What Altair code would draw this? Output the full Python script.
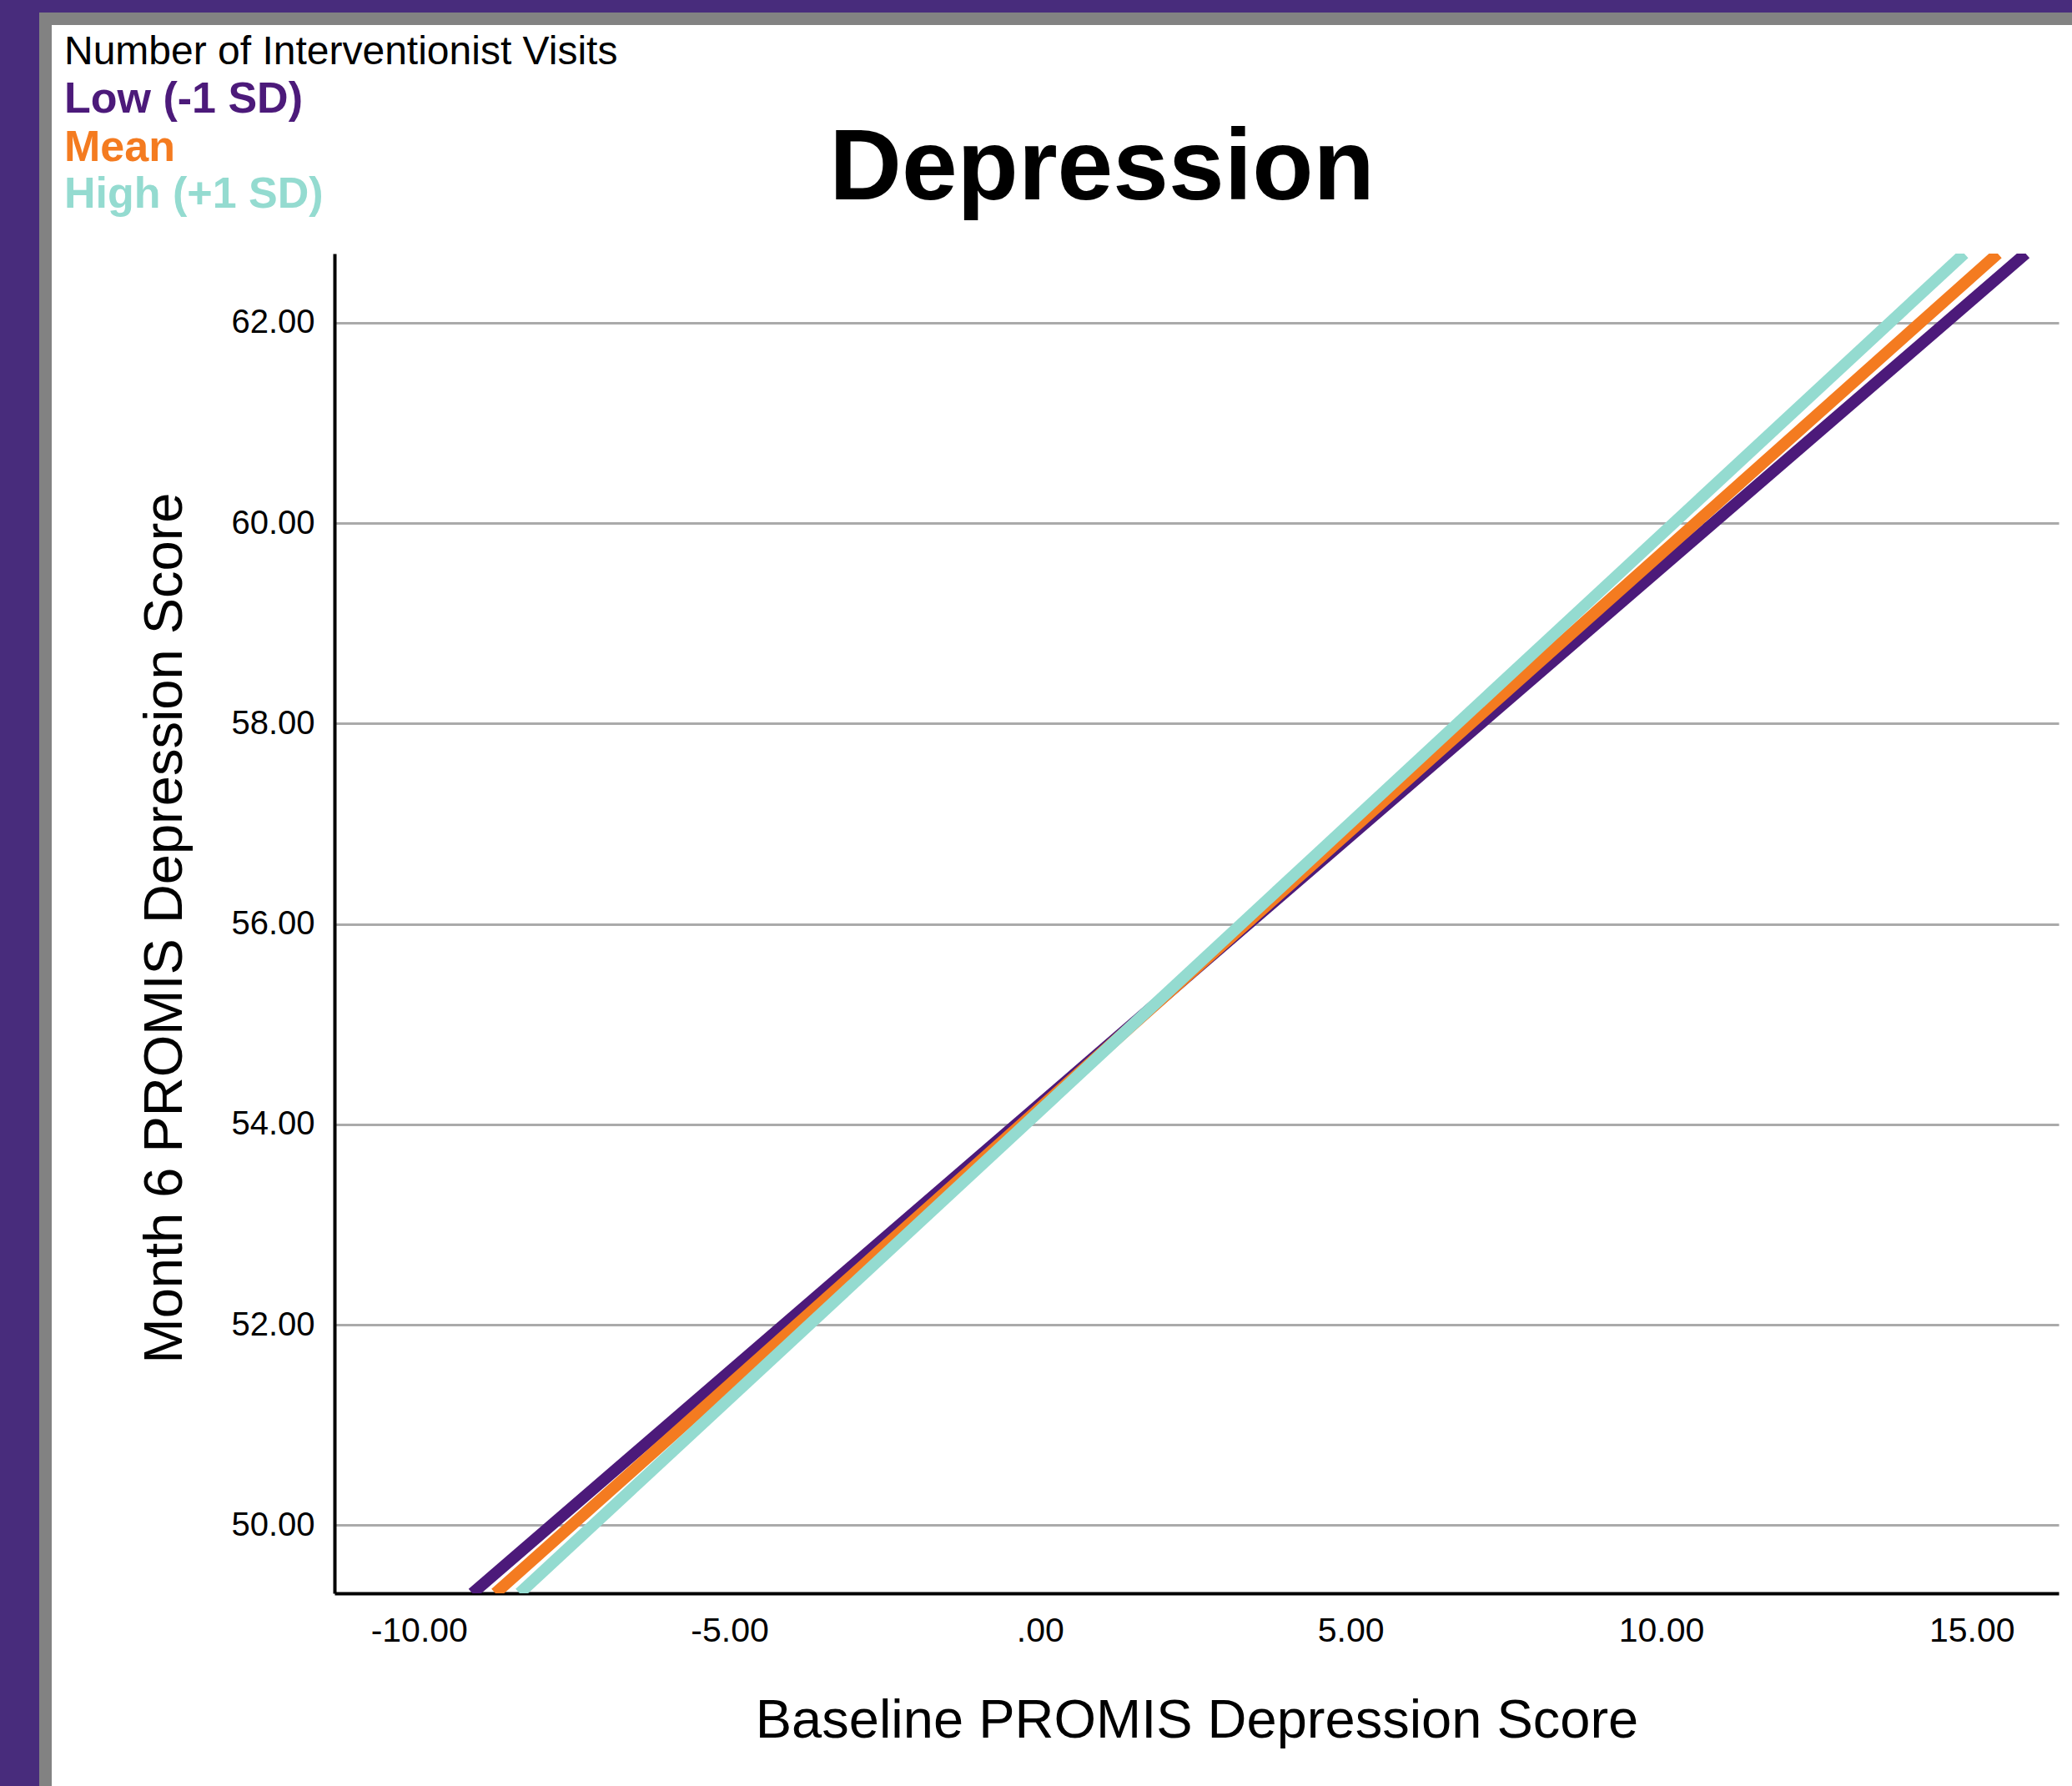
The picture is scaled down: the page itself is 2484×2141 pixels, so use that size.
import altair as alt
import pandas as pd

# ---- data ----
series = ["Low (-1 SD)", "Mean", "High (+1 SD)"]
colors = ["#4c1a7a", "#f47b20", "#94dbd0"]
x_start = [-9.14, -8.77, -8.38]
x_end = [15.87, 15.42, 14.88]
y_start = [49.32, 49.32, 49.32]
y_end = [62.69, 62.69, 62.69]

x_ticks = [-10, -5, 0, 5, 10, 15]
y_ticks = [50, 52, 54, 56, 58, 60, 62]
x_domain = [-11.36, 16.40]
y_domain = [49.32, 62.69]

legend_title = "Number of Interventionist Visits"
chart_title = "Depression"
x_title = "Baseline PROMIS Depression Score"
y_title = "Month 6 PROMIS Depression Score"

# ---- tables ----
rows = []
for s, xs, xe, ys, ye in zip(series, x_start, x_end, y_start, y_end):
    rows.append({"series": s, "x": xs, "y": ys})
    rows.append({"series": s, "x": xe, "y": ye})
lines_df = pd.DataFrame(rows)
labels_df = pd.DataFrame({"series": series})
one = pd.DataFrame({"k": [0]})

W, H = 2067, 1606
PAD_L, PAD_T = 401, 304
TOTAL_W, TOTAL_H = 2484, 2141

color_scale = alt.Scale(domain=series, range=colors)
label_expr = ("(datum.value < 0 ? '-' : '') + "
              "(datum.value == 0 ? '.00' : format(abs(datum.value), '.2f'))")
FONT = "Liberation Sans"

x_enc = alt.X(
    "x:Q",
    scale=alt.Scale(domain=x_domain, nice=False, zero=False),
    axis=alt.Axis(
        values=x_ticks, labelExpr=label_expr, title=x_title, grid=False,
        ticks=False, tickSize=0, domainColor="black", domainWidth=4,
        labelFont=FONT, labelFontSize=41, labelColor="black", labelPadding=25,
        labelFlush=False, labelOverlap=False,
        titleFont=FONT, titleFontSize=65, titleFontWeight="normal",
        titleColor="black", titleY=172, titleBaseline="alphabetic",
    ),
)
y_enc = alt.Y(
    "y:Q",
    scale=alt.Scale(domain=y_domain, nice=False, zero=False),
    axis=alt.Axis(
        values=y_ticks, labelExpr=label_expr, title=y_title, grid=True,
        gridColor="#aaaaaa", gridWidth=3, ticks=False, tickSize=0,
        domainColor="black", domainWidth=4,
        labelFont=FONT, labelFontSize=40, labelColor="black", labelPadding=24,
        labelFlush=False, labelOverlap=False,
        titleFont=FONT, titleFontSize=65, titleFontWeight="normal",
        titleColor="black", titleX=-184, titleY=808, titleAngle=270,
        titleAlign="center", titleBaseline="alphabetic",
    ),
)

layers = []

# border decoration (purple outer band, grey inner band) on left and top
def rect(x0, x1, y0, y1, color):
    return alt.Chart(one).mark_rect(color=color, clip=False).encode(
        x=alt.value(x0 - PAD_L), x2=alt.value(x1 - PAD_L),
        y=alt.value(y0 - PAD_T), y2=alt.value(y1 - PAD_T),
    )

layers.append(rect(0, 47, 0, TOTAL_H, "#482c7c"))
layers.append(rect(0, TOTAL_W, 0, 15, "#482c7c"))
layers.append(rect(47, 62, 15, TOTAL_H, "#828282"))
layers.append(rect(47, TOTAL_W, 15, 30, "#828282"))

# fit lines, drawn Low, Mean, High (High on top)
for s in series:
    layers.append(
        alt.Chart(lines_df).transform_filter(alt.datum.series == s)
        .mark_line(strokeWidth=14, strokeCap="butt", clip=True)
        .encode(
            x=x_enc, y=y_enc,
            color=alt.Color("series:N", scale=color_scale, legend=None),
        )
    )

# chart title
layers.append(
    alt.Chart(one).mark_text(
        text=chart_title, font=FONT, fontSize=120, fontWeight="bold",
        color="black", align="center", baseline="alphabetic",
    ).encode(x=alt.value(1321 - PAD_L), y=alt.value(239 - PAD_T))
)

# legend title
layers.append(
    alt.Chart(one).mark_text(
        text=legend_title, font=FONT, fontSize=48, color="black",
        align="left", baseline="alphabetic",
    ).encode(x=alt.value(77 - PAD_L), y=alt.value(77 - PAD_T))
)

# legend labels, coloured like their lines
legend_baselines = [135, 193, 249]
for s, yb in zip(series, legend_baselines):
    layers.append(
        alt.Chart(labels_df).transform_filter(alt.datum.series == s)
        .mark_text(font=FONT, fontSize=52, fontWeight="bold",
                   align="left", baseline="alphabetic")
        .encode(
            text="series:N",
            color=alt.Color("series:N", scale=color_scale, legend=None),
            x=alt.value(77 - PAD_L), y=alt.value(yb - PAD_T),
        )
    )

chart = (
    alt.layer(*layers)
    .properties(
        width=W, height=H,
        padding={"left": PAD_L, "top": PAD_T,
                 "right": TOTAL_W - PAD_L - W, "bottom": TOTAL_H - PAD_T - H},
        autosize=alt.AutoSizeParams(type="none"),
        background="white",
    )
    .configure_view(stroke=None)
)

chart.save("out.html", embed_options={"renderer": "svg", "actions": False})
